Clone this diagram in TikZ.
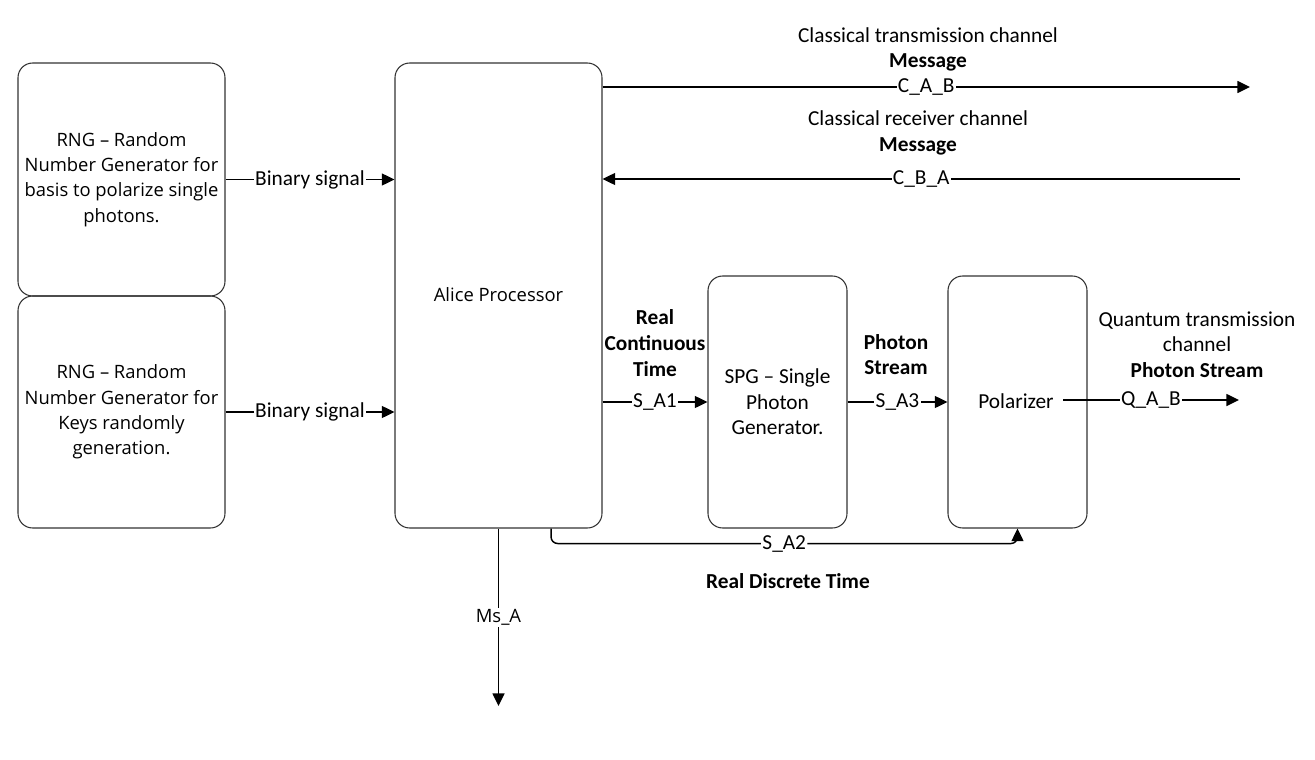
\documentclass[tikz,border=0pt]{standalone}
\usepackage{fontspec}
\setmainfont{Carlito}
\newfontfamily\boxfont[Ligatures=TeX]{Open Sans}
\usetikzlibrary{arrows.meta}

\tikzset{
  block/.style={draw=black!80, line width=0.8pt, rounded corners=11pt, align=center,
    font=\boxfont\fontsize{13.8}{19}\selectfont},
  sig/.style={line width=1.1pt, -{Triangle[length=9.5pt,width=9pt]}},
  lab/.style={fill=white, inner sep=1pt, font=\fontsize{16}{19}\selectfont},
  note/.style={align=center, inner sep=0pt, font=\fontsize{16}{19}\selectfont}
}

\begin{document}
\begin{tikzpicture}[x=0.75pt, y=-0.75pt]
  \useasboundingbox (0,0) rectangle (1315,760);

  % blocks
  \node[block, minimum width=155.25pt, minimum height=174.75pt] (rngbasis) at (121.5, 179.5)
    {RNG -- Random\\Number Generator for\\basis to polarize single\\photons.};
  \node[block, minimum width=155.25pt, minimum height=174pt] (rngkey) at (121.5, 412)
    {RNG -- Random\\Number Generator for\\Keys randomly\\generation.};
  \node[block, minimum width=155.25pt, minimum height=348.75pt] (alice) at (498.5, 295.5) {};
  \node[font=\boxfont\fontsize{13.8}{19}\selectfont] (alicetxt) at (498.5, 295) {Alice Processor};
  \node[block, font=\fontsize{16}{19}\selectfont, minimum width=104.25pt, minimum height=189pt] (spg) at (777.5, 402)
    {SPG -- Single\\Photon\\Generator.};
  \node[block, minimum width=104.25pt, minimum height=189pt] (polar) at (1017.5, 402) {};
  \node[note] (polartxt) at (1016, 401) {Polarizer};

  % free ends
  \coordinate (cabend) at (1250, 87);
  \coordinate (cbastart) at (1240, 179);
  \coordinate (qabstart) at (1063, 400);
  \coordinate (qabend) at (1239, 400);
  \coordinate (msend) at (498.5, 706);

  % connectors
  \draw[sig] (rngbasis.east) -- node[lab] (bin1) {Binary signal} (alice.west |- rngbasis.east);
  \draw[sig] (rngkey.east) -- node[lab] (bin2) {Binary signal} (alice.west |- rngkey.east);
  \draw[sig] (alice.east |- cabend) -- node[lab] (cab) {C\_A\_B} (cabend);
  \draw[sig] (cbastart) -- node[lab] (cba) {C\_B\_A} (alice.east |- cbastart);
  \draw[sig] (alice.east |- spg.west) -- node[lab] (sa1) {S\_A1} (spg.west);
  \draw[sig] (spg.east) -- node[lab] (sa3) {S\_A3} (polar.west);
  \draw[sig] (qabstart) -- node[lab] (qab) {Q\_A\_B} (qabend);
  \draw[sig, rounded corners=5pt] ([xshift=39.4pt]alice.south) -- ++(0,15) -| node[lab, pos=0.25] (sa2) {S\_A2} (polar.south);
  \draw[sig] (alice.south) -- node[lab, font=\boxfont\fontsize{13.8}{19}\selectfont] (msa) {Ms\_A} (msend);

  % texts
  \node[note] (ctx) at (928, 49.5) {Classical transmission channel\\\textbf{Message}};
  \node[note] (crx) at (918, 133) {Classical receiver channel\\\textbf{Message}};
  \node[note, font=\bfseries\fontsize{16}{19.5}\selectfont] (rct) at (655, 343) {Real\\Continuous\\Time};
  \node[note, font=\bfseries\fontsize{16}{19}\selectfont] (pst) at (896, 354.5) {Photon\\Stream};
  \node[note] (qtx) at (1197, 344.5) {Quantum transmission\\channel\\\textbf{Photon Stream}};
  \node[note, font=\bfseries\fontsize{16}{19}\selectfont] (rdt) at (788, 581) {Real Discrete Time};
\end{tikzpicture}
\end{document}
